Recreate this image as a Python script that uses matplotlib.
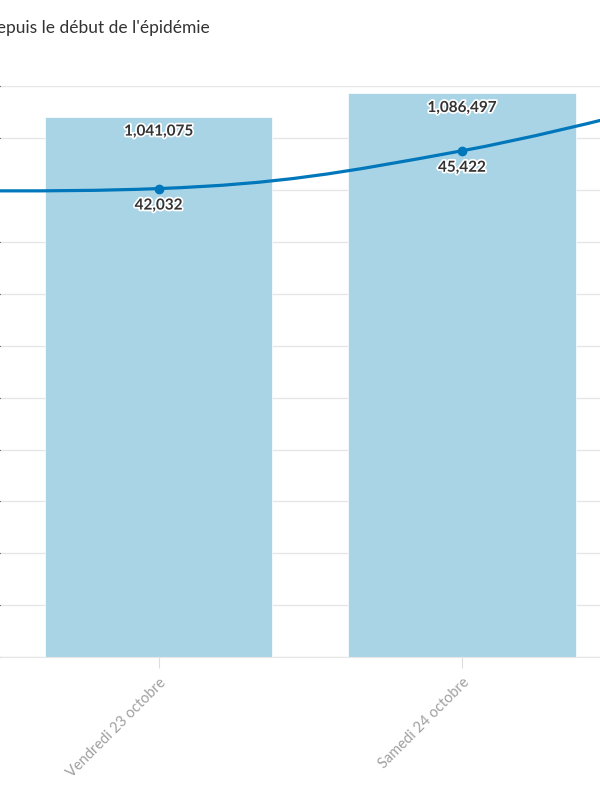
import numpy as np
import matplotlib.pyplot as plt
from matplotlib.path import Path
from matplotlib.patches import PathPatch
import matplotlib.patheffects as pe

plt.rcParams['font.family'] = ['Lato', 'DejaVu Sans']

# data (France, cas confirmés)
dates = ["Mercredi 21 octobre", "Jeudi 22 octobre", "Vendredi 23 octobre",
         "Samedi 24 octobre", "Dimanche 25 octobre"]
total_cases = [957421, 999043, 1041075, 1086497, 1138507]
new_cases = [26676, 41622, 42032, 45422, 52010]

BAR_COLOR = '#a8d4e6'
LINE_COLOR = '#0077bb'
TEXT_COLOR = '#333333'
GRID_COLOR = '#e6e6e6'


def spline_path(xs, ys, smoothing=1.5):
    # control points computed like a Highcharts "spline" series
    n = len(xs)
    left = [None] * n
    right = [None] * n
    d = smoothing + 1
    for i in range(1, n - 1):
        lx = (smoothing * xs[i] + xs[i - 1]) / d
        ly = (smoothing * ys[i] + ys[i - 1]) / d
        rx = (smoothing * xs[i] + xs[i + 1]) / d
        ry = (smoothing * ys[i] + ys[i + 1]) / d
        corr = (ry - ly) * (rx - xs[i]) / (rx - lx) + ys[i] - ry
        ly += corr
        ry += corr
        if ly > ys[i - 1] and ly > ys[i]:
            ly = max(ys[i - 1], ys[i])
            ry = 2 * ys[i] - ly
        elif ly < ys[i - 1] and ly < ys[i]:
            ly = min(ys[i - 1], ys[i])
            ry = 2 * ys[i] - ly
        if ry > ys[i + 1] and ry > ys[i]:
            ry = max(ys[i + 1], ys[i])
            ly = 2 * ys[i] - ry
        elif ry < ys[i + 1] and ry < ys[i]:
            ry = min(ys[i + 1], ys[i])
            ly = 2 * ys[i] - ry
        left[i] = (lx, ly)
        right[i] = (rx, ry)
    verts = [(xs[0], ys[0])]
    codes = [Path.MOVETO]
    for i in range(1, n):
        c1 = right[i - 1] or (xs[i - 1], ys[i - 1])
        c2 = left[i] or (xs[i], ys[i])
        verts += [c1, c2, (xs[i], ys[i])]
        codes += [Path.CURVE4] * 3
    return Path(verts, codes)


x = np.arange(len(dates))

fig = plt.figure(figsize=(6, 8), dpi=100)
ax = fig.add_axes([0, 0.1784, 1, 0.7141])

ax.bar(x, total_cases, width=0.75, color=BAR_COLOR, edgecolor='white',
       linewidth=0.5, zorder=2)
ax.set_ylim(0, 1100000)
ax.set_yticks(np.arange(0, 1100001, 100000))
ax.yaxis.grid(True, color=GRID_COLOR, linewidth=1)
ax.set_axisbelow(True)
ax.tick_params(axis='y', left=False, labelleft=False)
for s in ['top', 'left', 'right']:
    ax.spines[s].set_visible(False)
ax.spines['bottom'].set_color(GRID_COLOR)

ax.set_xticks(x)
ax.set_xticklabels(dates, rotation=45, ha='right', rotation_mode='anchor',
                   color='#a0a0a0', fontsize=10.5)
ax.tick_params(axis='x', length=8, color='#dddddd', pad=5)

stroke = [pe.withStroke(linewidth=2.5, foreground='white')]
for xi, v in zip(x, total_cases):
    ax.annotate(f'{v:,}', (xi, v), xytext=(0, -15), textcoords='offset pixels',
                ha='center', va='center', fontsize=11, fontweight='bold',
                color=TEXT_COLOR, path_effects=stroke, zorder=5,
                annotation_clip=True)

ax2 = ax.twinx()
ax2.add_patch(PathPatch(spline_path(list(x), new_cases), fill=False,
                        edgecolor=LINE_COLOR, linewidth=2.3, capstyle='round'))
ax2.plot(x, new_cases, 'o', color=LINE_COLOR, markersize=6)
for xi, v in zip(x, new_cases):
    ax2.annotate(f'{v:,}', (xi, v), xytext=(0, -17), textcoords='offset pixels',
                 ha='center', va='center', fontsize=11, fontweight='bold',
                 color=TEXT_COLOR, path_effects=stroke, zorder=5,
                 annotation_clip=True)
ax2.set_ylim(0, 51230)
ax2.axis('off')

# visible window of the (wider) chart: Vendredi 23 and Samedi 24 only
step = 303.3
x_left = 2 - 158.7 / step
ax.set_xlim(x_left, x_left + 600 / step)

fig.text(210 / 600, 1 - 28 / 800, "depuis le début de l'épidémie",
         ha='right', va='center', fontsize=12.5, color=TEXT_COLOR)

fig.savefig('out.png', dpi=100)
